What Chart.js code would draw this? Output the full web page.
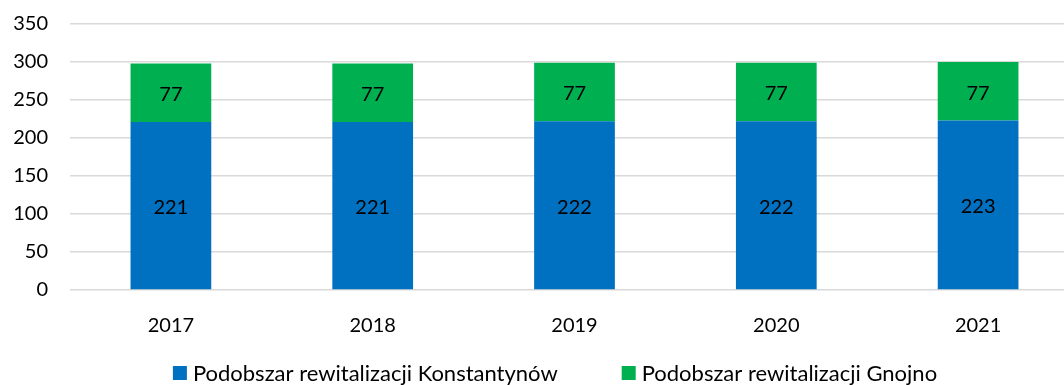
<!DOCTYPE html>
<html>
<head>
<meta charset="utf-8">
<script src="https://cdn.jsdelivr.net/npm/chart.js@4/dist/chart.umd.min.js"></script>
<style>
  html, body { margin: 0; padding: 0; background: #fff; overflow: hidden; }
  #wrap { width: 1085px; height: 385px; position: relative; }
</style>
</head>
<body>
<div id="wrap"><canvas id="barChart"></canvas></div>
<script>
const years = ['2017', '2018', '2019', '2020', '2021'];
const konstantynow = [221, 221, 222, 222, 223];
const gnojno = [77, 77, 77, 77, 77];
const yTicks = [0, 50, 100, 150, 200, 250, 300, 350];

const fontFamily = 'Lato, "Open Sans", sans-serif';
const fontSize = 20;

// writes each segment's value in the middle of its bar
const valueLabels = {
  id: 'valueLabels',
  afterDatasetsDraw(chart) {
    const ctx = chart.ctx;
    ctx.save();
    ctx.font = fontSize + 'px ' + fontFamily;
    ctx.fillStyle = '#000';
    ctx.textAlign = 'center';
    ctx.textBaseline = 'middle';
    chart.data.datasets.forEach((ds, i) => {
      chart.getDatasetMeta(i).data.forEach((bar, j) => {
        const mid = (bar.y + bar.base) / 2 + 2;
        ctx.fillText(String(ds.data[j]), bar.x, mid);
      });
    });
    ctx.restore();
  }
};

// legend row at the bottom, two entries with a wide gap
const bottomLegend = {
  id: 'bottomLegend',
  afterDraw(chart) {
    const ctx = chart.ctx;
    const box = 14, gapText = 6, gapItem = 64;
    const centerX = 555, centerY = 373;
    ctx.save();
    ctx.font = '22px ' + fontFamily;
    ctx.textBaseline = 'middle';
    ctx.textAlign = 'left';
    const items = chart.data.datasets.map(ds => ({
      text: ds.label,
      color: ds.backgroundColor,
      w: box + gapText + ctx.measureText(ds.label).width
    }));
    const total = items.reduce((s, it) => s + it.w, 0) + gapItem * (items.length - 1);
    let x = centerX - total / 2;
    items.forEach(it => {
      ctx.fillStyle = it.color;
      ctx.fillRect(x, centerY - box / 2, box, box);
      ctx.fillStyle = '#000';
      ctx.fillText(it.text, x + box + gapText, centerY + 1);
      x += it.w + gapItem;
    });
    ctx.restore();
  }
};

new Chart(document.getElementById('barChart'), {
  type: 'bar',
  data: {
    labels: years,
    datasets: [
      {
        label: 'Podobszar rewitalizacji Konstantynów',
        data: konstantynow,
        backgroundColor: '#0070C0'
      },
      {
        label: 'Podobszar rewitalizacji Gnojno',
        data: gnojno,
        backgroundColor: '#00B050'
      }
    ]
  },
  plugins: [valueLabels, bottomLegend],
  options: {
    responsive: true,
    maintainAspectRatio: false,
    animation: false,
    layout: { padding: { left: 0, top: 24, right: 6, bottom: 40 } },
    datasets: { bar: { barPercentage: 0.4, categoryPercentage: 1.0 } },
    scales: {
      x: {
        stacked: true,
        grid: { display: false },
        border: { display: false },
        afterFit(axis) { axis.height = 55; },
        ticks: { color: '#000', font: { family: fontFamily, size: fontSize }, padding: 16 }
      },
      y: {
        stacked: true,
        min: 0,
        max: 350,
        afterBuildTicks(axis) { axis.ticks = yTicks.map(v => ({ value: v })); },
        afterFit(axis) {
          axis.width = 70;
          axis.paddingTop = 0;
          axis.paddingBottom = 0;
        },
        grid: { color: '#d9d9d9', lineWidth: 1.5, drawTicks: false },
        border: { display: false },
        ticks: { color: '#000', font: { family: fontFamily, size: fontSize }, padding: 22 }
      }
    },
    plugins: {
      legend: { display: false },
      tooltip: { enabled: false }
    }
  }
});
</script>
</body>
</html>
